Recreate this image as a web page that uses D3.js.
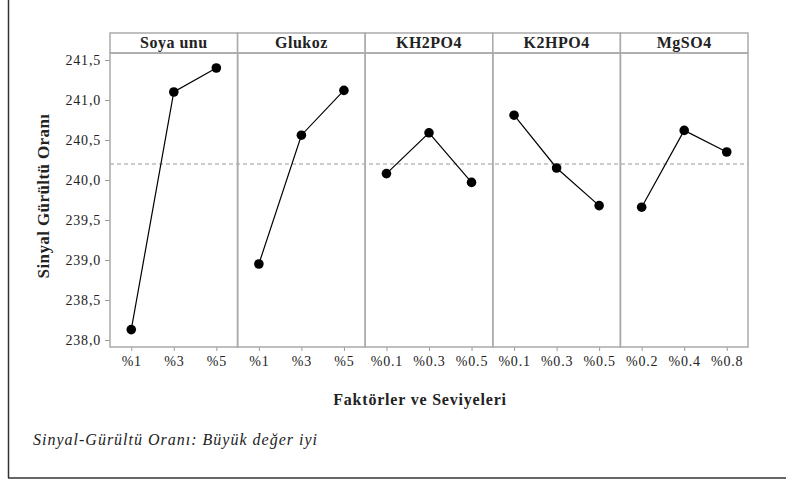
<!DOCTYPE html>
<html>
<head>
<meta charset="utf-8">
<style>
  body { margin: 0; background: #fff; }
  svg, svg text { font-family: "Liberation Serif", "DejaVu Serif", "Times New Roman", Times, serif !important; }
  text { fill: #222; }
</style>
<script src="https://d3js.org/d3.v7.min.js"></script>
</head>
<body>
<div id="chart"></div>
<script>
  // factors (panels) and their levels
  const factors = ["Soya unu", "Glukoz", "KH2PO4", "K2HPO4", "MgSO4"];
  const levels = [
    ["%1", "%3", "%5"],
    ["%1", "%3", "%5"],
    ["%0.1", "%0.3", "%0.5"],
    ["%0.1", "%0.3", "%0.5"],
    ["%0.2", "%0.4", "%0.8"]
  ];
  // mean S/N ratio per level
  const snValues = [
    [238.13, 241.10, 241.40],
    [238.95, 240.56, 241.12],
    [240.08, 240.59, 239.97],
    [240.81, 240.15, 239.68],
    [239.66, 240.62, 240.35]
  ];
  const overallMean = 240.2;
  const yTicks = [238.0, 238.5, 239.0, 239.5, 240.0, 240.5, 241.0, 241.5];

  const W = 786, H = 481;
  const plot = { left: 110, right: 748, top: 53, bottom: 347 };
  const stripH = 20;
  const serif = '"Liberation Serif", "DejaVu Serif", "Times New Roman", serif';

  const svg = d3.select("#chart").append("svg")
    .attr("width", W)
    .attr("height", H)
    .style("font-family", serif);

  // outer frame (left and bottom edges visible)
  svg.append("line").attr("x1", 8.5).attr("x2", 8.5).attr("y1", 0).attr("y2", 478)
    .attr("stroke", "#333").attr("stroke-width", 1.5);
  svg.append("line").attr("x1", 8).attr("x2", W).attr("y1", 478).attr("y2", 478)
    .attr("stroke", "#333").attr("stroke-width", 1.5);

  const panelScale = d3.scaleBand()
    .domain(factors)
    .range([plot.left, plot.right])
    .padding(0);
  const pw = panelScale.bandwidth();

  const y = d3.scaleLinear()
    .domain([237.9125, 241.5875])
    .range([plot.bottom, plot.top]);

  const fmt = d => d3.format(".1f")(d).replace(".", ",");

  // y axis
  const yAxis = svg.append("g")
    .attr("transform", `translate(${plot.left},0)`)
    .call(d3.axisLeft(y).tickValues(yTicks).tickFormat(fmt).tickSize(5).tickPadding(4));
  yAxis.attr("font-family", null);
  yAxis.select(".domain").remove();
  yAxis.selectAll(".tick line").attr("stroke", "#999");
  yAxis.selectAll(".tick text")
    .style("font-family", serif)
    .style("font-size", "14px")
    .style("letter-spacing", "0.8px")
    .attr("fill", "#222");

  // mean reference line
  svg.append("line")
    .attr("x1", plot.left).attr("x2", plot.right)
    .attr("y1", y(overallMean)).attr("y2", y(overallMean))
    .attr("stroke", "#999").attr("stroke-dasharray", "4,3");

  factors.forEach((f, i) => {
    const x0 = panelScale(f);
    const x = d3.scalePoint()
      .domain(levels[i])
      .range([x0, x0 + pw])
      .padding(0.5);

    // strip header
    svg.append("rect")
      .attr("x", x0).attr("y", plot.top - stripH)
      .attr("width", pw).attr("height", stripH)
      .attr("fill", "#fff").attr("stroke", "#aaa").attr("stroke-width", 1.5);
    svg.append("text")
      .attr("x", x0 + pw / 2).attr("y", plot.top - 5)
      .attr("text-anchor", "middle")
      .style("font-family", serif)
      .style("font-size", "16px")
      .style("letter-spacing", "0.5px")
      .style("font-weight", "bold")
      .text(f);

    // x axis
    const xa = svg.append("g")
      .attr("transform", `translate(0,${plot.bottom})`)
      .call(d3.axisBottom(x).tickSize(4).tickPadding(5));
    xa.attr("font-family", null);
    xa.select(".domain").remove();
    xa.selectAll(".tick line").attr("stroke", "#999");
    xa.selectAll(".tick text")
      .style("font-family", serif)
      .style("font-size", "14px")
      .style("letter-spacing", "0.8px")
      .attr("fill", "#222");

    const pts = levels[i].map((l, j) => ({ l, v: snValues[i][j] }));
    svg.append("path")
      .datum(pts)
      .attr("fill", "none")
      .attr("stroke", "#000")
      .attr("stroke-width", 1.2)
      .attr("d", d3.line().x(d => x(d.l)).y(d => y(d.v)));
    svg.selectAll(null)
      .data(pts)
      .enter()
      .append("circle")
      .attr("cx", d => x(d.l))
      .attr("cy", d => y(d.v))
      .attr("r", 4.8)
      .attr("fill", "#000");
  });

  // panel borders
  svg.selectAll(".panel")
    .data(factors)
    .enter()
    .append("rect")
    .attr("x", d => panelScale(d)).attr("y", plot.top)
    .attr("width", pw).attr("height", plot.bottom - plot.top)
    .attr("fill", "none").attr("stroke", "#aaa").attr("stroke-width", 1.5);

  // axis titles
  svg.append("text")
    .attr("transform", `translate(49,196) rotate(-90)`)
    .attr("text-anchor", "middle")
    .style("font-family", serif)
    .style("font-size", "17px")
    .style("letter-spacing", "0.4px")
    .style("font-weight", "bold")
    .text("Sinyal Gürültü Oranı");

  svg.append("text")
    .attr("x", 420).attr("y", 405)
    .attr("text-anchor", "middle")
    .style("font-family", serif)
    .style("font-size", "16px")
    .style("letter-spacing", "0.8px")
    .style("font-weight", "bold")
    .text("Faktörler ve Seviyeleri");

  svg.append("text")
    .attr("x", 33).attr("y", 445)
    .style("font-family", serif)
    .style("font-size", "16px")
    .style("font-style", "italic")
    .style("letter-spacing", "1px")
    .text("Sinyal-Gürültü Oranı: Büyük değer iyi");
</script>
</body>
</html>
